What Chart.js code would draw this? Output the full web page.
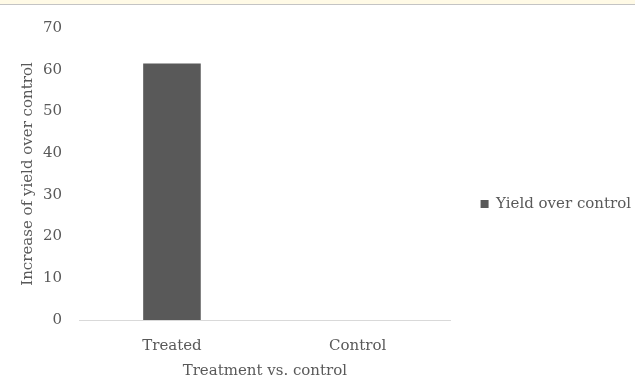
<!DOCTYPE html>
<html>
<head>
<meta charset="utf-8">
<script src="https://cdn.jsdelivr.net/npm/chart.js@4/dist/chart.umd.min.js"></script>
<style>
  body { margin: 0; background: #fff; }
  #strip { height: 4px; background: #fffae6; border-bottom: 1px solid #c4c4c4; }
  #wrap { position: relative; width: 635px; height: 377px; }
</style>
</head>
<body>
<div id="strip"></div>
<div id="wrap"><canvas id="chart"></canvas></div>
<script>
// data
const categories = ["Treated", "Control"];
const seriesName = "Yield over control";
const yieldOverControl = [61.5, 0];

const TEXT = "#595959";
const FONT = "'DejaVu Serif', serif";

const chart = new Chart(document.getElementById("chart"), {
    type: "bar",
    data: {
        labels: categories,
        datasets: [
            {
                label: seriesName,
                data: yieldOverControl,
                backgroundColor: "#595959",
                categoryPercentage: 1,
                barPercentage: 0.31
            }
        ]
    },
    options: {
        responsive: true,
        maintainAspectRatio: false,
        animation: false,
        layout: { padding: { top: 10, left: 19, right: -6, bottom: 2 } },
        plugins: {
            legend: {
                position: "right",
                maxWidth: 220,
                title: { display: true, text: " ", font: { size: 1 }, padding: 6 },
                labels: {
                    color: TEXT,
                    font: { family: FONT, size: 15 },
                    boxWidth: 8,
                    boxHeight: 8,
                    padding: 30
                }
            },
            tooltip: { enabled: false }
        },
        scales: {
            x: {
                grid: { color: "transparent", drawTicks: false },
                border: { color: "#d9d9d9", width: 1 },
                ticks: { color: TEXT, font: { family: FONT, size: 15 }, padding: 17 },
                title: {
                    display: true,
                    text: "Treatment vs. control",
                    color: TEXT,
                    font: { family: FONT, size: 15 },
                    padding: { top: -10, bottom: 0 }
                }
            },
            y: {
                min: 0,
                max: 70,
                grid: { display: false, drawTicks: false },
                border: { display: false },
                ticks: { stepSize: 10, color: TEXT, font: { family: FONT, size: 15, lineHeight: 0.8 }, padding: 17 },
                title: {
                    display: true,
                    text: "Increase of yield over control",
                    color: TEXT,
                    font: { family: FONT, size: 15 },
                    padding: { top: 0, bottom: -11 }
                }
            }
        }
    }
});
</script>
</body>
</html>
